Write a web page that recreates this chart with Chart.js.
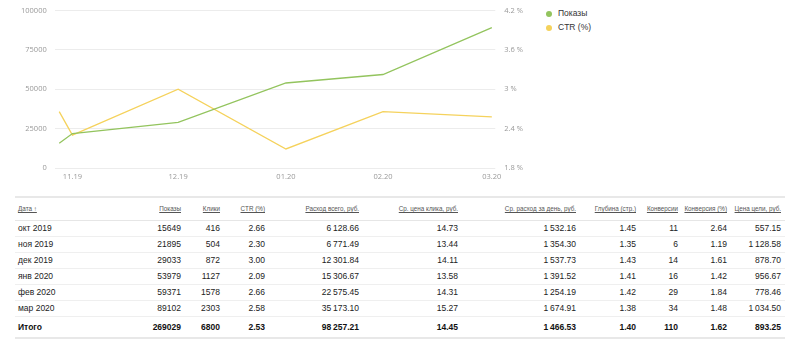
<!DOCTYPE html>
<html>
<head>
<meta charset="utf-8">
<script src="https://cdn.jsdelivr.net/npm/chart.js@4/dist/chart.umd.min.js"></script>
<style>
  html, body { margin: 0; padding: 0; background: #fff; }
  body { width: 800px; height: 340px; position: relative; overflow: hidden; font-family: "Liberation Sans", Arial, sans-serif; }
  #chartWrap { position: absolute; left: 0; top: -3px; width: 540px; height: 191px; }
  #legend { position: absolute; left: 546px; top: 7px; font-size: 8.5px; color: #333; }
  #legend div { height: 14px; line-height: 12px; white-space: nowrap; }
  #legend span.dot { display: inline-block; width: 6px; height: 6px; border-radius: 50%; margin-right: 6px; vertical-align: -0.5px; }
  table { position: absolute; left: 15px; top: 196px; width: 770px; border-collapse: collapse; table-layout: fixed; }
  th, td { padding: 0; text-align: right; white-space: nowrap; overflow: visible; }
  th:first-child, td:first-child { text-align: left; padding-left: 3px; }
  thead tr { height: 23px; border-top: 2px solid #e8e8e8; border-bottom: 1px solid #e6e6e6; }
  th { font-weight: normal; font-size: 6.3px; color: #555; text-decoration: underline; }
  tbody tr { height: 16px; border-bottom: 1px solid #efefef; }
  td { font-size: 8.5px; color: #222; }
  tfoot tr { height: 22px; border-bottom: 2px solid #e8e8e8; }
  tfoot td { font-weight: bold; color: #111; }
  td:last-child, th:last-child { padding-right: 4px; }
</style>
</head>
<body>
<div id="chartWrap"><canvas id="c"></canvas></div>
<div id="legend"></div>
<table id="tbl">
  <colgroup>
    <col style="width:115px"><col style="width:51px"><col style="width:39px"><col style="width:45px">
    <col style="width:94px"><col style="width:99px"><col style="width:118px"><col style="width:60px">
    <col style="width:42px"><col style="width:49px"><col style="width:58px">
  </colgroup>
  <thead><tr id="head"></tr></thead>
  <tbody id="body"></tbody>
  <tfoot><tr id="foot"></tr></tfoot>
</table>
<script>
// ---- data ----
const months = ['окт 2019', 'ноя 2019', 'дек 2019', 'янв 2020', 'фев 2020', 'мар 2020'];
// position of each period on the time axis, in days from 1 Nov 2019
const periodDay = [-3.8, 0, 30.5, 61.6, 89.6, 121];
const xTickDays = [0, 30.5, 61.6, 89.6, 121];
const xTickLabels = ['11.19', '12.19', '01.20', '02.20', '03.20'];
const impressions = [15649, 21895, 29033, 53979, 59371, 89102];
const clicks = [416, 504, 872, 1127, 1578, 2303];
const ctr = [2.66, 2.30, 3.00, 2.09, 2.66, 2.58];
const cost = [6128.66, 6771.49, 12301.84, 15306.67, 22575.45, 35173.10];
const cpc = [14.73, 13.44, 14.11, 13.58, 14.31, 15.27];
const costPerDay = [1532.16, 1354.30, 1537.73, 1391.52, 1254.19, 1674.91];
const depth = [1.45, 1.35, 1.43, 1.41, 1.42, 1.38];
const conversions = [11, 6, 14, 16, 29, 34];
const convRate = [2.64, 1.19, 1.61, 1.42, 1.84, 1.48];
const goalCost = [557.15, 1128.58, 878.70, 956.67, 778.46, 1034.50];
const totals = ['Итого', 269029, 6800, 2.53, 98257.21, 14.45, 1466.53, 1.40, 110, 1.62, 893.25];
const headers = ['Дата ↑', 'Показы', 'Клики', 'CTR (%)', 'Расход всего, руб.', 'Ср. цена клика, руб.',
  'Ср. расход за день, руб.', 'Глубина (стр.)', 'Конверсии', 'Конверсия (%)', 'Цена цели, руб.'];
const seriesNames = ['Показы', 'CTR (%)'];
const seriesColors = ['#93c45e', '#f5d25c'];
const leftTicks = { min: 0, max: 100000, step: 25000 };
const rightTicks = { min: 1.8, max: 4.2, step: 0.6 };

// ---- table ----
function fmtMoney(v) {
  const s = v.toFixed(2);
  const [i, d] = s.split('.');
  return i.replace(/\B(?=(\d{3})+(?!\d))/g, '\u2009') + '.' + d;
}
function fmt2(v) { return v.toFixed(2); }
const head = document.getElementById('head');
headers.forEach(h => { const th = document.createElement('th'); th.textContent = h; head.appendChild(th); });
const body = document.getElementById('body');
months.forEach((m, i) => {
  const cells = [m, String(impressions[i]), String(clicks[i]), fmt2(ctr[i]), fmtMoney(cost[i]), fmt2(cpc[i]),
    fmtMoney(costPerDay[i]), fmt2(depth[i]), String(conversions[i]), fmt2(convRate[i]), fmtMoney(goalCost[i])];
  const tr = document.createElement('tr');
  cells.forEach(c => { const td = document.createElement('td'); td.textContent = c; tr.appendChild(td); });
  body.appendChild(tr);
});
const foot = document.getElementById('foot');
const totCells = [totals[0], String(totals[1]), String(totals[2]), fmt2(totals[3]), fmtMoney(totals[4]), fmt2(totals[5]),
  fmtMoney(totals[6]), fmt2(totals[7]), String(totals[8]), fmt2(totals[9]), fmtMoney(totals[10])];
totCells.forEach(c => { const td = document.createElement('td'); td.textContent = c; foot.appendChild(td); });

// ---- legend ----
const legend = document.getElementById('legend');
seriesNames.forEach((n, i) => {
  const d = document.createElement('div');
  d.innerHTML = '<span class="dot" style="background:' + seriesColors[i] + '"></span>' + n;
  legend.appendChild(d);
});

// ---- chart ----
const tickFont = { family: '"Open Sans", "Liberation Sans", Arial, sans-serif', size: 7.5 };
new Chart(document.getElementById('c'), {
  type: 'line',
  data: {
    datasets: [
      { label: seriesNames[0], data: periodDay.map((x, i) => ({ x, y: impressions[i] })), borderColor: seriesColors[0],
        backgroundColor: seriesColors[0], borderWidth: 1.3, pointRadius: 0, tension: 0, yAxisID: 'y' },
      { label: seriesNames[1], data: periodDay.map((x, i) => ({ x, y: ctr[i] })), borderColor: seriesColors[1],
        backgroundColor: seriesColors[1], borderWidth: 1.3, pointRadius: 0, tension: 0, yAxisID: 'y1' }
    ]
  },
  options: {
    responsive: true,
    maintainAspectRatio: false,
    animation: false,
    layout: { padding: { left: 13, right: 8, top: 4, bottom: 3 } },
    plugins: { legend: { display: false }, tooltip: { enabled: false } },
    scales: {
      x: {
        type: 'linear', min: -5.1, max: 122,
        grid: { display: false, drawTicks: false },
        border: { display: false },
        afterBuildTicks: s => { s.ticks = xTickDays.map(v => ({ value: v })); },
        ticks: {
          autoSkip: false, maxRotation: 0, padding: 4, color: '#999', font: tickFont,
          callback: (v) => { const k = xTickDays.indexOf(v); return k >= 0 ? xTickLabels[k] : ''; }
        }
      },
      y: {
        position: 'left', min: leftTicks.min, max: leftTicks.max,
        grid: { color: '#ececec', lineWidth: 1, drawTicks: false },
        border: { display: false },
        ticks: { stepSize: leftTicks.step, padding: 8, color: '#999', font: tickFont,
          callback: v => String(v) }
      },
      y1: {
        position: 'right', min: rightTicks.min, max: rightTicks.max,
        grid: { display: false, drawTicks: false },
        border: { display: false },
        ticks: { stepSize: rightTicks.step, padding: 9, color: '#999', font: tickFont,
          callback: v => (Math.round(v * 10) / 10) + ' %' }
      }
    }
  }
});
</script>
</body>
</html>
